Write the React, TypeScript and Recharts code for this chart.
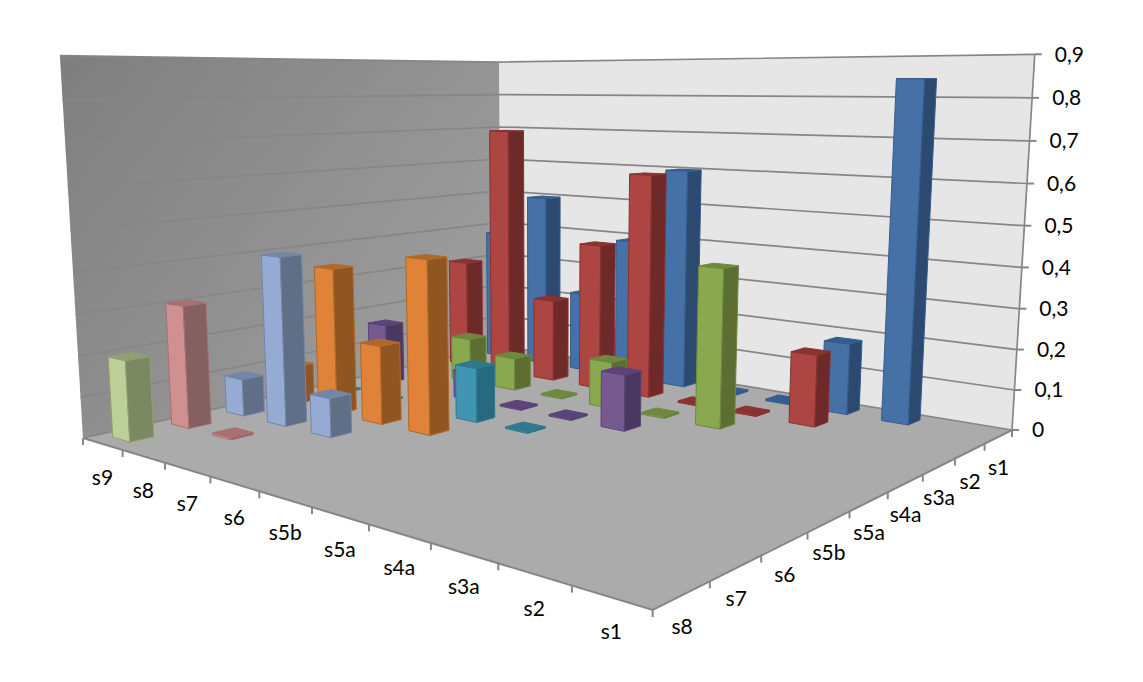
import React from 'react';
import { ScatterChart, Scatter, XAxis, YAxis } from 'recharts';

const categories = ['s9', 's8', 's7', 's6', 's5b', 's5a', 's4a', 's3a', 's2', 's1'];
const depthLabels = ['s8', 's7', 's6', 's5b', 's5a', 's4a', 's3a', 's2', 's1'];
const valueTicks = [0, 0.1, 0.2, 0.3, 0.4, 0.5, 0.6, 0.7, 0.8, 0.9];

// values per series, in category order (s9 first)
const s1Values = [0.38, 0.498, 0.226, 0.393, 0.599, 0.004, 0.004, 0.183, 0.845];
const s2Values = [0.308, 0.7, 0.228, 0.398, 0.597, 0.004, 0.004, 0.18];
const s3aValues = [0.1, 0.122, 0.088, 0.004, 0.122, 0.004, 0.397];
const s4aValues = [0.165, 0.03, 0.075, 0.004, 0.004, 0.14];
const s5aValues = [0.003, 0.003, 0.003, 0.138, 0.004];
const s5bValues = [0.1, 0.375, 0.198, 0.427];
const s6Values = [0.095, 0.422, 0.096];
const s7Values = [0.305, 0.005];
const s8Values = [0.197];

const WIDTH = 1143;
const HEIGHT = 682;
const PLOT_TOP = 52;
const PLOT_BOTTOM = 430;
const PLOT_WIDTH = 1030;
const MAX_VALUE = 0.9;

// floor corners on screen: left, front, right, back
const P0 = [83, 438];
const P1 = [652.7, 610];
const P2 = [1012, 430];
const P3 = [501, 346];
const VANISH = [547, 8100];
const LIFT = -0.0528;

const dx1 = P1[0] - P2[0];
const dx2 = P3[0] - P2[0];
const dy1 = P1[1] - P2[1];
const dy2 = P3[1] - P2[1];
const sx = P0[0] - P1[0] + P2[0] - P3[0];
const sy = P0[1] - P1[1] + P2[1] - P3[1];
const den = dx1 * dy2 - dx2 * dy1;
const G = (sx * dy2 - dx2 * sy) / den;
const H = (dx1 * sy - sx * dy1) / den;

// u runs left->front along categories, v runs front->back along depth rows, z is the value
const project = (u: number, v: number, z: number) => {
  const t = z * LIFT;
  const w = 1 + G * u + H * v;
  const X = (P1[0] - P0[0] + G * P1[0]) * u + (P3[0] - P0[0] + H * P3[0]) * v + P0[0];
  const Y = (P1[1] - P0[1] + G * P1[1]) * u + (P3[1] - P0[1] + H * P3[1]) * v + P0[1];
  return [(X + t * VANISH[0]) / (w + t), (Y + t * VANISH[1]) / (w + t)];
};

const pts = (list: number[][]) => list.map((p) => `${p[0].toFixed(1)},${p[1].toFixed(1)}`).join(' ');

const BAR_U = 0.0215;
const BAR_V = 0.022;

const Cuboid = ({ cx, cy, depth, palette }: any) => {
  const u = (cx / PLOT_WIDTH);
  const v = (depth + 0.5) / depthLabels.length;
  const z = ((PLOT_BOTTOM - cy) / (PLOT_BOTTOM - PLOT_TOP)) * MAX_VALUE;
  const u0 = u - BAR_U;
  const u1 = u + BAR_U;
  const v0 = v - BAR_V;
  const v1 = v + BAR_V;
  const front = [project(u0, v0, 0), project(u1, v0, 0), project(u1, v0, z), project(u0, v0, z)];
  const side = [project(u1, v0, 0), project(u1, v1, 0), project(u1, v1, z), project(u1, v0, z)];
  const top = [project(u0, v0, z), project(u1, v0, z), project(u1, v1, z), project(u0, v1, z)];
  return (
    <g>
      <polygon points={pts(front)} fill={palette[0]} stroke={palette[2]} strokeWidth={1} />
      <polygon points={pts(side)} fill={palette[1]} stroke={palette[2]} strokeWidth={1} />
      <polygon points={pts(top)} fill={palette[2]} stroke={palette[2]} strokeWidth={1} />
    </g>
  );
};

const GRID = '#868686';

const Room = () => {
  const top = MAX_VALUE;
  return (
    <g>
      <defs>
        <linearGradient id="leftWall" gradientUnits="userSpaceOnUse" x1="60" y1="50" x2="500" y2="400">
          <stop offset="0%" stopColor="#7e7e7e" />
          <stop offset="100%" stopColor="#a2a2a2" />
        </linearGradient>
      </defs>
      <polygon points={pts([project(0, 0, 0), project(0, 1, 0), project(0, 1, top), project(0, 0, top)])} fill="url(#leftWall)" />
      <polygon points={pts([project(0, 1, 0), project(1, 1, 0), project(1, 1, top), project(0, 1, top)])} fill="#e6e6e6" />
      <polygon points={pts([project(0, 0, 0), project(1, 0, 0), project(1, 1, 0), project(0, 1, 0)])} fill="#ababab" />
      {valueTicks.map((t) => {
        const a = project(0, 0, t);
        const b = project(0, 1, t);
        const c = project(1, 1, t);
        return (
          <g key={t}>
            <polyline points={pts([a, b, c])} fill="none" stroke={GRID} strokeWidth={1.7} />
            <line x1={c[0]} y1={c[1]} x2={c[0] + 7} y2={c[1]} stroke={GRID} strokeWidth={2} />
          </g>
        );
      })}
      <line x1={project(1, 1, 0)[0]} y1={project(1, 1, 0)[1]} x2={project(1, 1, top)[0]} y2={project(1, 1, top)[1]} stroke={GRID} strokeWidth={1.7} />
      <polyline points={pts([project(0, 0, 0), project(1, 0, 0), project(1, 1, 0)])} fill="none" stroke={GRID} strokeWidth={2} />
      {categories.map((_, i) => {
        const p = project(i / categories.length, 0, 0);
        return <line key={i} x1={p[0]} y1={p[1]} x2={p[0]} y2={p[1] + 7} stroke={GRID} strokeWidth={2} />;
      })}
      {depthLabels.map((_, i) => {
        const p = project(1, i / depthLabels.length, 0);
        return <line key={i} x1={p[0]} y1={p[1]} x2={p[0]} y2={p[1] + 7} stroke={GRID} strokeWidth={2} />;
      })}
      {(() => {
        const p = project(1, 1, 0);
        return <line x1={p[0]} y1={p[1]} x2={p[0]} y2={p[1] + 7} stroke={GRID} strokeWidth={2} />;
      })()}
      {categories.map((name, i) => {
        const p = project((i + 0.5) / categories.length, 0, 0);
        return (
          <text key={name} x={p[0]} y={p[1] + 36} textAnchor="middle" dominantBaseline="middle" fontFamily="Lato" fontSize={21} fill="#000">
            {name}
          </text>
        );
      })}
      {depthLabels.map((name, i) => {
        const p = project(1, (i + 0.5) / depthLabels.length, 0);
        return (
          <text key={name} x={p[0]} y={p[1] + 33} textAnchor="middle" dominantBaseline="middle" fontFamily="Lato" fontSize={21} fill="#000">
            {name}
          </text>
        );
      })}
    </g>
  );
};

const ValueTick = ({ payload }: any) => {
  const p = project(1, 1, payload.value);
  const label = payload.value === 0 ? '0' : payload.value.toFixed(1).replace('.', ',');
  return (
    <text x={p[0] + 20} y={p[1] + 2} textAnchor="start" dominantBaseline="middle" fontFamily="Lato" fontSize={21} fill="#000">
      {label}
    </text>
  );
};

// front face, side face, top face
const palettes: Record<string, string[]> = {
  s1: ['#4571a7', '#2c4a70', '#345d8e'],
  s2: ['#ad4542', '#6e2a29', '#8a3230'],
  s3a: ['#8aa84e', '#5c6e32', '#6e8840'],
  s4a: ['#75598f', '#4a3862', '#5d4478'],
  s5a: ['#4096b0', '#276a80', '#2f7890'],
  s5b: ['#e08238', '#8f5623', '#b06a28'],
  s6: ['#95abd3', '#5f6f88', '#7386a6'],
  s7: ['#d09090', '#846060', '#a87070'],
  s8: ['#bccf96', '#7b8862', '#90a070'],
};

const toRows = (values: number[]) => values.map((value, i) => ({ cat: i + 0.5, value }));

const seriesList = [
  { name: 's1', depth: 8, rows: toRows(s1Values) },
  { name: 's2', depth: 7, rows: toRows(s2Values) },
  { name: 's3a', depth: 6, rows: toRows(s3aValues) },
  { name: 's4a', depth: 5, rows: toRows(s4aValues) },
  { name: 's5a', depth: 4, rows: toRows(s5aValues) },
  { name: 's5b', depth: 3, rows: toRows(s5bValues) },
  { name: 's6', depth: 2, rows: toRows(s6Values) },
  { name: 's7', depth: 1, rows: toRows(s7Values) },
  { name: 's8', depth: 0, rows: toRows(s8Values) },
];

const App = () => (
  <div style={{ position: 'absolute', left: 0, top: 0, width: WIDTH, height: HEIGHT, background: '#fff' }}>
    <ScatterChart
      width={WIDTH}
      height={HEIGHT}
      margin={{ top: PLOT_TOP, right: 0, bottom: HEIGHT - PLOT_BOTTOM, left: 0 }}
    >
      <Room />
      <XAxis type="number" dataKey="cat" domain={[0, categories.length]} hide />
      <YAxis
        type="number"
        dataKey="value"
        orientation="right"
        width={WIDTH - PLOT_WIDTH}
        domain={[0, MAX_VALUE]}
        ticks={valueTicks}
        axisLine={false}
        tickLine={false}
        tick={(props: any) => <ValueTick {...props} />}
      />
      {seriesList.map((s) => (
        <Scatter
          key={s.name}
          name={s.name}
          data={s.rows}
          isAnimationActive={false}
          shape={(props: any) => <Cuboid {...props} depth={s.depth} palette={palettes[s.name]} />}
        />
      ))}
    </ScatterChart>
  </div>
);

export default App;
